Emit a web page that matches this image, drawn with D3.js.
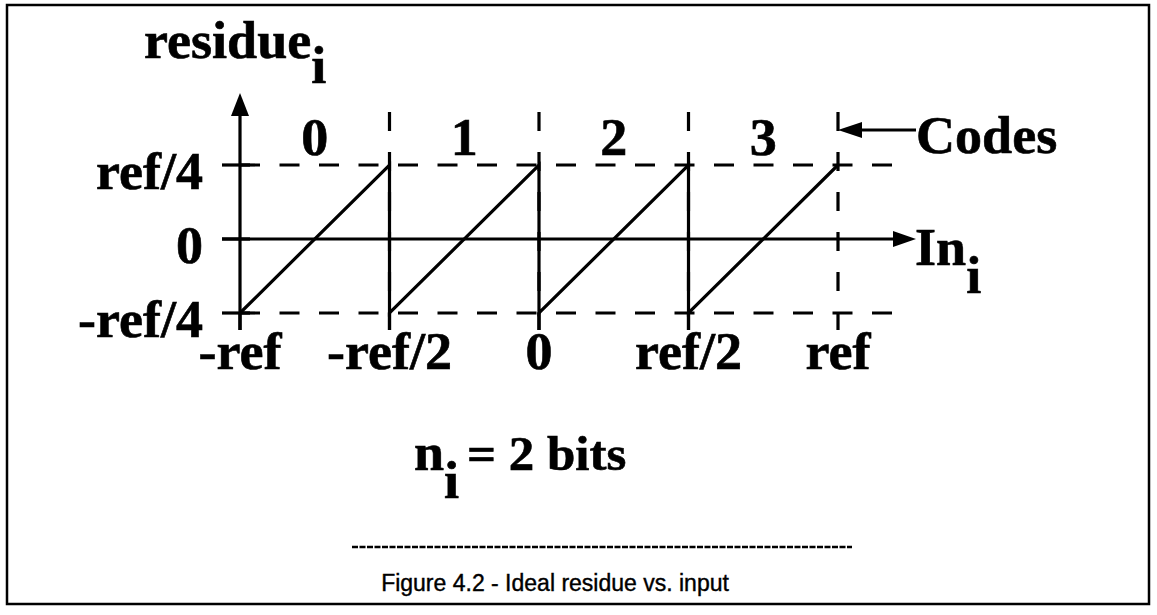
<!DOCTYPE html>
<html>
<head>
<meta charset="utf-8">
<script src="https://cdn.jsdelivr.net/npm/d3@7"></script>
<style>
  body { margin: 0; background: #fff; }
  svg text { font-family: "Liberation Serif", "Times New Roman", serif; font-weight: bold; fill: #000; stroke: #000; stroke-width: 0.6; }
  svg text.caption { font-family: "Liberation Sans", Arial, sans-serif; font-weight: normal; stroke-width: 0.4; }
</style>
</head>
<body>
<div id="chart"></div>
<script>
// ticks along the input axis (in units of ref)
var xTicks = [-1, -0.5, 0, 0.5, 1];
var xTickLabels = ["-ref", "-ref/2", "0", "ref/2", "ref"];
// ticks on the residue axis
var yTicks = [-0.25, 0, 0.25];
var yTickLabels = ["-ref/4", "0", "ref/4"];
// output codes of the 2 bit stage
var codes = ["0", "1", "2", "3"];
// ideal residue (sawtooth)
var residueX = [-1, -0.5, -0.5, 0, 0, 0.5, 0.5, 1];
var residueY = [-0.25, 0.25, -0.25, 0.25, -0.25, 0.25, -0.25, 0.25];

var width = 1157, height = 615;
var sx = 1.04; // the scanned type is a bit wide

var svg = d3.select("#chart").append("svg")
  .attr("width", width)
  .attr("height", height);

// frame
svg.append("rect")
  .attr("x", 7).attr("y", 5)
  .attr("width", 1142).attr("height", 599)
  .attr("fill", "none").attr("stroke", "#000").attr("stroke-width", 2.5);

var x = d3.scaleLinear().domain([-1, 1]).range([240, 838]);
var y = d3.scaleLinear().domain([-0.25, 0.25]).range([313, 165]);

var ink = "#000", lw = 3.2;

function label(px, py, txt, anchor, size) {
  return svg.append("text")
    .attr("transform", "translate(" + px + "," + py + ") scale(" + sx + ",1)")
    .attr("text-anchor", anchor || "start")
    .style("font-size", (size || 52) + "px")
    .text(txt);
}

// dashed level lines at +-ref/4
svg.selectAll("line.level")
  .data([-0.25, 0.25])
  .enter().append("line")
  .attr("class", "level")
  .attr("x1", x(-1)).attr("x2", 897)
  .attr("y1", d => y(d)).attr("y2", d => y(d))
  .attr("stroke", ink).attr("stroke-width", lw)
  .attr("stroke-dasharray", "20,19.5");

// y tick marks left of the axis
svg.selectAll("line.ytick")
  .data(yTicks)
  .enter().append("line")
  .attr("x1", 222).attr("x2", x(-1) + 10)
  .attr("y1", d => y(d)).attr("y2", d => y(d))
  .attr("stroke", ink).attr("stroke-width", lw);

// dashed code boundaries
svg.selectAll("line.bound")
  .data(xTicks.slice(1))
  .enter().append("line")
  .attr("x1", d => x(d)).attr("x2", d => x(d))
  .attr("y1", 112).attr("y2", 330)
  .attr("stroke", ink).attr("stroke-width", lw)
  .attr("stroke-dasharray", "19,21");

// x tick marks below -ref/4
svg.selectAll("line.xtick")
  .data(xTicks.slice(0, 4))
  .enter().append("line")
  .attr("x1", d => x(d)).attr("x2", d => x(d))
  .attr("y1", y(-0.25)).attr("y2", 330)
  .attr("stroke", ink).attr("stroke-width", lw);

// horizontal axis with arrow
svg.append("line")
  .attr("x1", 222).attr("x2", 895)
  .attr("y1", y(0)).attr("y2", y(0))
  .attr("stroke", ink).attr("stroke-width", lw);
svg.append("path")
  .attr("d", "M893," + (y(0) - 8) + "L916," + y(0) + "L893," + (y(0) + 8) + "Z")
  .attr("fill", ink);

// vertical axis with arrow
svg.append("line")
  .attr("x1", x(-1)).attr("x2", x(-1))
  .attr("y1", 330).attr("y2", 112)
  .attr("stroke", ink).attr("stroke-width", lw);
svg.append("path")
  .attr("d", "M" + (x(-1) - 9) + ",116L" + x(-1) + ",93L" + (x(-1) + 9) + ",116Z")
  .attr("fill", ink);

// residue sawtooth
var pts = residueX.map((v, i) => [v, residueY[i]]);
svg.append("path")
  .datum(pts)
  .attr("fill", "none")
  .attr("stroke", ink).attr("stroke-width", lw)
  .attr("d", d3.line().x(d => x(d[0])).y(d => y(d[1])));

// axis labels
xTicks.forEach(function (t, i) {
  label(x(t), 369, xTickLabels[i], "middle");
});
yTicks.forEach(function (t, i) {
  label(203, y(t) + 24, yTickLabels[i], "end");
});

// code numbers between boundaries
codes.forEach(function (c, i) {
  label(x((xTicks[i] + xTicks[i + 1]) / 2), 155, c, "middle");
});

// "Codes" pointer
svg.append("line")
  .attr("x1", 858).attr("x2", 916)
  .attr("y1", 130).attr("y2", 130)
  .attr("stroke", ink).attr("stroke-width", lw);
svg.append("path")
  .attr("d", "M" + x(1) + ",130L862,122L862,138Z")
  .attr("fill", ink);
label(916, 153, "Codes");

// title and axis name with subscripts
var t1 = label(144, 58, "residue");
t1.append("tspan").attr("dy", 25).text("i");

var t2 = label(915, 265, "In");
t2.append("tspan").attr("dy", 28).text("i");

var t3 = label(414, 470, "n");
t3.append("tspan").attr("dy", 28).text("i");
label(467, 470, "= 2 bits", "start", 49);

// separator and caption
svg.append("line")
  .attr("x1", 352).attr("x2", 852)
  .attr("y1", 547).attr("y2", 547)
  .attr("stroke", ink).attr("stroke-width", 2.4)
  .attr("stroke-dasharray", "6,1.5");

svg.append("text")
  .attr("class", "caption")
  .attr("x", 555).attr("y", 591)
  .attr("text-anchor", "middle")
  .style("font-size", "23px")
  .text("Figure 4.2 - Ideal residue vs. input");
</script>
</body>
</html>
